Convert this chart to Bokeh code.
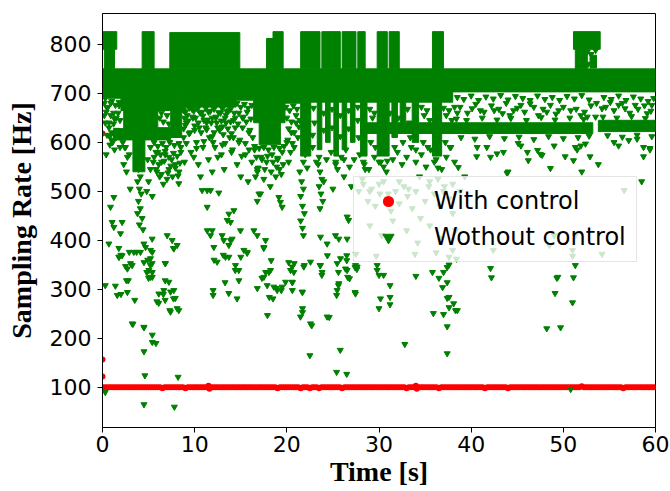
from bokeh.plotting import figure
from bokeh.models import Range1d, Legend, LegendItem, ColumnDataSource, FixedTicker
from bokeh.embed import file_html
from bokeh.resources import INLINE

# ---------------- data ----------------
x_ticks = [0, 10, 20, 30, 40, 50, 60]
y_ticks = [100, 200, 300, 400, 500, 600, 700, 800]

# "With control": ~100 Hz throughout
red_time = [0, 0.25, 0.5, 0.75, 1, 1.25, 1.5, 1.75, 2, 2.25, 2.5, 2.75, 3, 3.25, 3.5, 3.75,
            4, 4.25, 4.5, 4.75, 5, 5.25, 5.5, 5.75, 6, 6.25, 6.5, 6.75, 7, 7.25, 7.5, 7.75,
            8, 8.25, 8.5, 8.75, 9, 9.25, 9.5, 9.75, 10, 10.25, 10.5, 10.75, 11, 11.25, 11.5, 11.75,
            12, 12.25, 12.5, 12.75, 13, 13.25, 13.5, 13.75, 14, 14.25, 14.5, 14.75, 15, 15.25, 15.5, 15.75,
            16, 16.25, 16.5, 16.75, 17, 17.25, 17.5, 17.75, 18, 18.25, 18.5, 18.75, 19, 19.25, 19.5, 19.75,
            20, 20.25, 20.5, 20.75, 21, 21.25, 21.5, 21.75, 22, 22.25, 22.5, 22.75, 23, 23.25, 23.5, 23.75,
            24, 24.25, 24.5, 24.75, 25, 25.25, 25.5, 25.75, 26, 26.25, 26.5, 26.75, 27, 27.25, 27.5, 27.75,
            28, 28.25, 28.5, 28.75, 29, 29.25, 29.5, 29.75, 30, 30.25, 30.5, 30.75, 31, 31.25, 31.5, 31.75,
            32, 32.25, 32.5, 32.75, 33, 33.25, 33.5, 33.75, 34, 34.25, 34.5, 34.75, 35, 35.25, 35.5, 35.75,
            36, 36.25, 36.5, 36.75, 37, 37.25, 37.5, 37.75, 38, 38.25, 38.5, 38.75, 39, 39.25, 39.5, 39.75,
            40, 40.25, 40.5, 40.75, 41, 41.25, 41.5, 41.75, 42, 42.25, 42.5, 42.75, 43, 43.25, 43.5, 43.75,
            44, 44.25, 44.5, 44.75, 45, 45.25, 45.5, 45.75, 46, 46.25, 46.5, 46.75, 47, 47.25, 47.5, 47.75,
            48, 48.25, 48.5, 48.75, 49, 49.25, 49.5, 49.75, 50, 50.25, 50.5, 50.75, 51, 51.25, 51.5, 51.75,
            52, 52.25, 52.5, 52.75, 53, 53.25, 53.5, 53.75, 54, 54.25, 54.5, 54.75, 55, 55.25, 55.5, 55.75,
            56, 56.25, 56.5, 56.75, 57, 57.25, 57.5, 57.75, 58, 58.25, 58.5, 58.75, 59, 59.25, 59.5, 59.75,
            60]
red_rate = [100, 100, 100, 100, 100, 100, 100, 100, 100, 100, 100, 100, 100, 100, 100, 100,
            100, 100, 100, 100, 100, 100, 100, 100, 100, 100, 98, 100, 100, 100, 100, 100,
            100, 100, 100, 100, 98, 100, 100, 100, 100, 100, 100, 100, 100, 100, 103, 100,
            100, 100, 100, 100, 100, 100, 100, 100, 100, 100, 100, 100, 100, 100, 100, 100,
            100, 100, 100, 100, 100, 100, 100, 100, 100, 100, 100, 100, 98, 100, 100, 100,
            100, 100, 100, 100, 100, 100, 98, 100, 100, 100, 98, 100, 100, 100, 98, 100,
            100, 100, 100, 100, 100, 100, 100, 100, 98, 100, 100, 100, 100, 100, 100, 100,
            100, 100, 100, 100, 100, 100, 100, 100, 100, 100, 100, 100, 100, 100, 100, 100,
            100, 100, 100, 100, 98, 100, 100, 100, 103, 100, 100, 100, 100, 100, 100, 100,
            100, 100, 98, 100, 100, 100, 100, 100, 100, 100, 100, 100, 100, 100, 100, 100,
            100, 100, 100, 100, 100, 100, 98, 100, 100, 100, 100, 100, 100, 100, 100, 100,
            98, 100, 100, 100, 100, 100, 100, 100, 100, 100, 100, 100, 100, 100, 100, 100,
            100, 100, 100, 100, 100, 100, 100, 100, 100, 100, 100, 100, 100, 100, 100, 100,
            102, 100, 100, 100, 100, 100, 100, 100, 100, 100, 100, 100, 100, 100, 100, 100,
            100, 100, 98, 100, 100, 100, 100, 100, 100, 100, 100, 100, 100, 100, 100, 100,
            100]
red_extra_time = [0, 0, 0, 0.1, 11.6, 34.1]
red_extra_rate = [618, 157, 122, 97, 97, 97]

# "Wothout control": saturated regions of the cloud (t0, t1, low, high)
dense_t0 = [0, 0.0, 0.2, 4.3, 7.3, 17.8, 18.5, 21.5, 23.8, 26.0, 27.7, 29.8, 31.1, 35.8,
            51.1, 51.3, 52.9,
            0, 2.0, 2.3, 6.0, 7.4, 1.2, 3.3, 8.6, 14.5, 16.4, 17.0, 19.8, 21.5,
            21.5, 23.3, 24.2, 25.1, 26.0, 26.9, 28.0, 29.8, 31.4, 32.3, 33.6, 35.8,
            28.0, 53.8]
dense_t1 = [60, 1.55, 1.3, 5.6, 14.9, 18.5, 19.6, 23.6, 25.8, 27.5, 28.5, 30.9, 32.2, 37.0,
            54.0, 52.6, 53.6,
            2.0, 8.6, 6.0, 7.4, 8.6, 2.3, 4.6, 14.5, 16.4, 19.8, 19.3, 21.5, 38.0,
            22.6, 23.8, 24.7, 25.6, 26.5, 27.4, 28.7, 31.1, 32.0, 32.9, 34.3, 36.8,
            53.2, 60]
dense_lo = [703, 790, 750, 750, 750, 750, 750, 750, 750, 750, 750, 750, 750, 750,
            790, 750, 752,
            690, 665, 605, 605, 610, 605, 540, 672, 686, 640, 595, 680, 682,
            572, 585, 600, 572, 585, 600, 572, 572, 610, 620, 600, 572,
            618, 622]
dense_hi = [750, 826, 790, 826, 824, 812, 826, 826, 826, 826, 826, 826, 826, 826,
            826, 790, 778,
            703, 703, 665, 630, 665, 628, 605, 703, 703, 703, 640, 703, 703,
            682, 682, 682, 682, 682, 682, 682, 682, 682, 682, 682, 682,
            640, 645]

# scattered triangles, grouped by region
low_left_time = [0.3, 1.4, 1.6, 2.0, 1.8, 2.0, 2.5, 2.7, 2.6, 2.8, 2.7, 2.9, 3.7, 3.5, 3.3,
                 4.5, 4.9, 4.8, 5.4, 5.0, 5.4, 5.2, 5.4, 5.4, 5.4, 5.8, 4.5, 4.5, 5.9, 6.1,
                 6.6, 6.8, 6.8, 6.8, 7.3, 7.7, 7.9, 8.1, 7.7, 12.1, 12.0, 12.0, 13.1, 13.3, 13.7,
                 14.4, 14.6, 14.8, 15.0, 15.7, 16.8, 17.3, 17.5, 17.7, 17.9, 18.1, 18.3, 18.5, 18.9, 19.4,
                 20.2, 20.4, 20.6, 20.6, 20.8, 21.7, 21.7, 21.7, 21.9, 22.5, 22.7, 23.6, 23.8, 24.4, 24.6]
low_left_rate = [308, 307, 288, 290, 366, 370, 347, 342, 318, 318, 294, 376, 376, 278, 229,
                 355, 360, 335, 335, 323, 325, 349, 376, 207, 192, 190, 173, 222, 275, 272,
                 290, 278, 353, 318, 257, 281, 282, 261, 384, 360, 298, 288, 370, 314, 292,
                 339, 281, 318, 366, 374, 302, 323, 384, 335, 247, 284, 359, 281, 302, 298,
                 355, 339, 314, 298, 353, 261, 253, 294, 349, 165, 226, 349, 329, 369, 243]

very_low_time = [4.5, 7.8, 0.3, 8.2, 4.6, 50.8]
very_low_rate = [65, 60, 90, 121, 124, 96]

low_right_time = [26.5, 26.5, 25.6, 26.6, 26.8, 25.6, 25.4, 27.4, 27.6, 27.4,
                  25.8, 25.4, 26.5, 29.8, 30.0, 30.5, 30.0, 31.2, 31.2, 31.2,
                  32.8, 34.0, 35.8, 36.5, 37.0, 37.4, 37.6, 36.9, 37.4, 37.4,
                  37.6, 38.1, 37.6, 38.3, 38.5, 35.9, 37.0, 37.4, 37.4, 42.1,
                  42.2, 48.2, 49.7, 49.1, 49.3, 49.4, 51.0, 51.1, 51.3]
low_right_rate = [369, 359, 335, 325, 322, 308, 288, 345, 341, 294,
                  176, 131, 127, 349, 329, 329, 261, 308, 284, 269,
                  188, 327, 335, 323, 335, 345, 350, 304, 314, 282,
                  284, 271, 263, 257, 257, 251, 249, 224, 169, 343,
                  324, 220, 222, 292, 323, 325, 273, 324, 349]

mid_left_time = [0.87, 1.23, 1.05, 1.23, 1.95, 2.13, 0.69, 1.77, 1.77, 2.13, 3.04, 3.22, 3.40, 4.12,
                 4.49, 4.67, 5.39, 5.21, 5.21, 5.39, 5.03, 5.21,
                 3.7, 3.9, 4.1, 3.8, 4.0, 4.2, 3.9, 4.1, 3.8, 4.3, 4.0, 4.4,
                 7.02, 7.56, 7.74, 8.10, 6.83, 7.20, 6.11, 6.65, 7.38, 7.74, 7.38, 8.28, 3.22, 4.49]
mid_left_rate = [468, 488, 437, 427, 414, 437, 393, 384, 366, 369, 353, 349, 376, 376,
                 393, 386, 403, 380, 363, 353, 339, 325,
                 560, 545, 530, 520, 505, 495, 480, 465, 455, 445, 432, 422,
                 410, 400, 383, 390, 353, 315, 291, 298, 295, 298, 254, 257, 230, 223]

mid_centre_time = [8.28, 10.63, 10.81, 11.36, 11.72, 11.36, 12.62, 11.36, 11.90, 11.72,
                   12.08, 12.98, 13.16, 13.71, 13.89, 14.07, 13.34, 13.71, 12.44, 14.25,
                   13.71, 13.53, 13.89, 14.43, 14.79, 14.97, 15.34, 15.70,
                   16.79, 16.60, 16.97, 17.15, 16.79, 16.42, 16.79, 17.51, 17.69, 17.51,
                   18.05, 18.23, 17.87, 18.59, 18.95, 19.49, 19.86, 20.58, 19.13, 19.31,
                   19.49, 20.76, 20.58, 21.66, 21.84, 22.57, 23.65, 21.48, 22.57, 24.37,
                   23.83, 23.65,
                   21.4, 21.6, 21.8, 21.5, 21.7, 21.9, 21.5, 21.7, 21.8,
                   23.4, 23.6, 23.8, 23.5, 23.7, 23.9, 23.6,
                   24.37, 25.28, 25.64, 26.54, 25.46, 25.82, 26.54, 26.36, 25.64, 25.46,
                   27.45, 27.45, 27.63, 26.54, 26.7, 29.80, 30.16]
mid_centre_rate = [516, 530, 502, 502, 502, 468, 497, 420, 420, 410,
                   386, 410, 400, 390, 400, 403, 366, 366, 356, 461,
                   454, 441, 437, 349, 339, 420, 380, 376,
                   545, 530, 495, 495, 480, 420, 410, 386, 400, 325,
                   335, 339, 308, 305, 298, 305, 315, 315, 488, 478,
                   468, 335, 346, 295, 346, 356, 349, 244, 230, 244,
                   335, 407,
                   540, 520, 505, 490, 470, 455, 440, 425, 410,
                   555, 540, 525, 510, 495, 480, 465,
                   393, 410, 403, 403, 353, 363, 339, 342, 312, 298,
                   291, 349, 346, 448, 441, 339, 281]

fringe_left_time = [0.3, 0.5, 0.9, 1.2, 0.7, 1.5, 1.8, 0.8, 1.1, 1.9, 0.2, 1.0,
                    2.5, 2.9, 5.2, 5.6, 6.0, 6.4, 6.8, 7.2, 7.5, 7.9, 8.3, 5.8, 6.2, 6.6, 7.0,
                    2.3, 2.6, 3.0, 4.8, 5.0, 5.4,
                    8.5, 8.8, 9.1, 9.5, 9.8, 10.2, 10.5, 10.9, 11.3, 11.6, 12.0, 12.3, 12.7, 13.0,
                    13.4, 13.8, 14.1, 14.4, 14.8, 15.2, 15.5, 15.9, 16.2, 8.9, 9.6, 10.4, 11.9,
                    12.5, 13.2, 14.6, 15.0, 15.8,
                    8.8, 9.2, 9.7, 10.1, 10.6, 11.0, 11.5, 11.9, 12.4, 12.8, 13.3, 13.7, 14.2,
                    9.0, 10.0, 11.2, 12.1, 13.0, 14.0,
                    16.5, 17.2, 17.8, 18.4, 19.0, 19.5, 20.0, 20.5, 21.0,
                    16.8, 17.5, 18.2, 18.8, 19.2, 20.2, 20.8]
fringe_left_rate = [690, 670, 680, 660, 640, 650, 675, 612, 600, 590, 655, 620,
                    590, 575, 590, 570, 580, 560, 575, 545, 565, 555, 540, 545, 530, 515, 525,
                    555, 540, 505, 500, 520, 490,
                    590, 610, 640, 620, 650, 600, 630, 590, 640, 610, 600, 650, 625, 595,
                    640, 610, 585, 630, 600, 650, 575, 620, 560, 560, 580, 555, 540,
                    570, 545, 555, 530, 520,
                    665, 655, 668, 650, 660, 645, 662, 650, 640, 660, 650, 665, 645,
                    635, 625, 630, 620, 632, 618,
                    585, 570, 560, 575, 565, 580, 600, 620, 640,
                    540, 525, 510, 530, 545, 560, 590]

fringe_mid_time = [22.0, 22.8, 23.2, 24.3, 24.8, 25.3, 25.9, 26.4, 26.8, 27.3,
                   27.9, 28.4, 28.9, 29.5, 30.2, 30.8, 31.5, 32.0, 32.5, 33.0,
                   33.5, 34.0, 34.6, 35.1, 35.6, 36.2, 36.8, 37.3, 37.8, 38.2,
                   24.0, 25.0, 26.2, 27.0, 28.2, 29.0, 30.0, 31.0, 32.2, 33.2,
                   34.4, 35.4, 36.4, 37.0, 38.0, 38.6]
fringe_mid_rate = [575, 590, 560, 565, 580, 555, 570, 585, 550, 565,
                   575, 555, 545, 570, 560, 540, 565, 580, 555, 570,
                   590, 560, 575, 550, 585, 565, 545, 570, 590, 560,
                   520, 505, 530, 510, 525, 500, 515, 495, 520, 505,
                   530, 510, 525, 500, 515, 549]

cloud_a_time = [0.2, 0.6, 1.0, 1.4, 1.8, 0.4, 0.9, 1.3, 1.7, 0.3, 0.7, 1.2, 1.6, 1.9, 0.5,
                1.0, 1.5, 0.8, 1.3, 0.4,
                5.6, 6.0, 6.5, 6.9, 7.3, 7.8, 8.3, 5.8, 6.3, 6.8, 7.2, 7.7, 8.1, 8.5, 5.5,
                6.1, 6.7, 7.4, 7.9, 8.4, 5.9, 6.4, 7.1, 7.6, 8.2, 4.9, 5.2, 2.4, 2.7, 2.2,
                6.2, 6.6, 7.0, 7.2, 6.4]
cloud_a_rate = [680, 672, 684, 676, 682, 662, 655, 648, 660, 640, 630, 638, 625, 645, 615,
                605, 610, 595, 585, 575,
                600, 592, 598, 590, 600, 594, 598, 580, 575, 582, 570, 578, 572, 580, 560,
                555, 562, 552, 548, 558, 540, 535, 538, 530, 532, 565, 545, 590, 570, 600,
                650, 642, 655, 638, 660]

cloud_b_time = [8.7, 9.0, 9.4, 9.9, 10.3, 10.8, 11.2, 11.7, 12.1, 12.6, 13.0, 13.5, 13.9, 14.3,
                8.9, 9.3, 9.8, 10.4, 10.9, 11.4, 11.8, 12.3, 12.9, 13.4, 13.9, 14.4,
                8.8, 9.4, 10.0, 10.7, 11.3, 11.9, 12.5, 13.1, 13.6, 14.2,
                9.1, 10.2, 11.0, 12.2, 13.3, 14.0, 9.9, 11.5, 12.9,
                14.6, 15.0, 15.4, 15.8, 16.2, 14.8, 15.3, 15.7, 16.1, 14.7, 15.2, 15.6, 16.0,
                16.3, 14.9, 15.5, 15.9, 15.1]
cloud_b_rate = [668, 662, 670, 664, 668, 662, 670, 664, 668, 661, 669, 663, 668, 660,
                650, 644, 652, 640, 654, 646, 640, 652, 644, 656, 642, 650,
                628, 618, 634, 620, 626, 612, 630, 616, 628, 610,
                598, 588, 602, 590, 598, 580, 570, 565, 575,
                680, 672, 678, 670, 676, 660, 652, 662, 648, 638, 630, 642, 625,
                610, 605, 598, 585, 572]

cloud_c_time = [16.5, 17.0, 17.5, 18.0, 18.6, 19.2, 19.7, 16.7, 17.3, 17.9, 18.5, 19.0, 19.6,
                16.9, 17.6, 18.3, 18.9, 19.4,
                19.9, 20.3, 20.7, 21.1, 20.0, 20.5, 21.0, 21.4, 20.2, 20.8, 21.3, 20.1, 20.6,
                21.2, 20.4]
cloud_c_rate = [592, 588, 590, 585, 590, 588, 592, 570, 565, 572, 560, 568, 555,
                548, 545, 540, 550, 535,
                672, 665, 675, 668, 650, 642, 655, 645, 628, 620, 632, 605, 598,
                610, 580]

cloud_d_time = [22.9, 23.0, 22.8, 24.0, 24.0, 24.9, 24.9, 25.8, 25.8, 26.7,
                26.7, 27.7, 27.7, 27.8, 29.0, 29.3, 29.5, 29.1, 29.6, 31.2,
                32.1, 33.1, 33.3, 33.4, 34.6, 34.9, 35.2, 35.5, 34.8, 35.3,
                37.0, 37.3, 37.6, 37.9, 37.2, 37.7, 38.2, 38.5,
                21.8, 22.2, 23.5, 25.3, 25.5, 26.2, 28.3, 28.5, 30.0, 30.5, 30.9, 36.0,
                36.4, 31.7, 32.6, 34.0]
cloud_d_rate = [670, 640, 615, 660, 625, 668, 630, 655, 612, 665,
                628, 672, 645, 610, 668, 650, 660, 600, 590, 660,
                650, 668, 640, 610, 672, 655, 665, 645, 600, 590,
                670, 655, 665, 645, 600, 590, 672, 660,
                560, 548, 570, 560, 545, 565, 560, 545, 560, 550, 562, 560,
                548, 590, 600, 585]

right_time = [43.9, 45.1, 46.1, 46.2, 47.2, 47.7, 48.6, 50.2, 51.1, 51.3,
              52.9, 53.8, 58.7, 59.4, 58.7, 41.7, 42.8, 40.6, 40.65, 42.1,
              43.5, 45.4, 47.5, 49.0, 51.5, 51.9, 52.4, 55.5, 56.0, 57.1, 58.0, 59.4,
              40.1, 41.0, 42.5, 43.4, 44.6, 45.4, 46.4, 47.3, 48.2, 49.5, 50.8,
              51.9, 52.6, 53.5, 54.2, 54.6, 55.1, 56.0, 56.7, 57.8, 59.1, 59.6,
              38.5, 39.2, 40.0, 40.8, 41.6, 42.4, 43.2, 44.0, 44.8, 45.6, 46.4, 47.2,
              48.0, 48.8, 49.6, 50.4, 51.2, 52.0, 52.8, 53.6, 54.4, 55.2, 56.0, 56.8,
              57.6, 58.4, 59.2, 59.8,
              38.4, 39.5, 41.2, 42.8, 44.3, 46.0, 47.6, 49.1, 50.7, 52.2, 54.3, 55.8, 57.4, 58.9,
              38.9, 40.4, 42.0, 43.6, 45.2, 46.8, 48.4, 50.0, 51.6, 52.8, 54.8, 56.4, 58.0, 59.6,
              52.6, 53.0, 53.5, 52.7,
              38.8, 39.6, 40.5, 41.4, 42.2, 43.0, 43.8, 44.2, 45.0, 45.8, 46.8, 47.8,
              48.6, 49.2, 50.0, 51.4, 52.3, 53.0, 55.5, 56.4, 57.2, 58.1, 58.8, 59.5]
right_rate = [537, 598, 580, 563, 584, 574, 547, 571, 563, 590,
              571, 555, 590, 588, 571, 590, 577, 571, 590, 570,
              580, 593, 576, 593, 585, 593, 597, 600, 593, 604, 607, 585,
              669, 665, 665, 659, 665, 676, 679, 655, 662, 665, 665,
              655, 652, 652, 669, 672, 682, 676, 669, 676, 659, 676,
              692, 688, 695, 686, 693, 689, 696, 687, 694, 690, 686, 695,
              688, 692, 686, 694, 689, 696, 687, 680, 692, 688, 695, 686,
              693, 689, 684, 690,
              648, 645, 650, 646, 649, 645, 651, 646, 650, 647, 652, 650, 653, 649,
              610, 607, 612, 608, 611, 606, 612, 608, 610, 613, 614, 611, 615, 612,
              785, 780, 788, 760,
              672, 660, 678, 662, 675, 668, 680, 655, 670, 662, 672, 668,
              676, 658, 672, 668, 662, 675, 665, 680, 660, 668, 675, 664]

legend_zone_time = [27.8, 28.3, 28.8, 29.2, 29.6, 30.1, 30.5, 30.9, 31.3, 31.8,
                    32.2, 32.7, 33.1, 33.6, 34.0, 34.5, 35.0, 35.5, 36.0, 36.6,
                    37.1, 37.6, 38.0, 38.8, 39.3, 29.0, 30.3, 31.5, 33.0, 34.2,
                    35.5, 36.8, 38.3, 42.4, 44.0, 48.5, 49.0, 51.0, 51.3, 56.6,
                    58.5, 52.0, 27.5, 29.7, 33.9, 36.2, 37.6, 51.0, 54.2, 38.0, 38.4]
legend_zone_rate = [500, 515, 480, 505, 470, 495, 520, 485, 460, 500,
                    475, 510, 490, 465, 500, 445, 480, 520, 495, 470,
                    510, 485, 455, 500, 530, 430, 410, 440, 420, 395,
                    430, 405, 420, 380, 540, 390, 410, 380, 410, 502,
                    520, 540, 372, 368, 372, 375, 366, 368, 372, 380, 362]

# ---------------- assemble sources ----------------
def pairs(ts, rs):
    n = min(len(ts), len(rs))
    return list(ts[:n]), list(rs[:n])

g_t, g_r = [], []
for ts, rs in [(low_left_time, low_left_rate), (very_low_time, very_low_rate),
               (low_right_time, low_right_rate), (mid_left_time, mid_left_rate),
               (mid_centre_time, mid_centre_rate), (fringe_left_time, fringe_left_rate),
               (fringe_mid_time, fringe_mid_rate), (cloud_a_time, cloud_a_rate),
               (cloud_b_time, cloud_b_rate), (cloud_c_time, cloud_c_rate),
               (cloud_d_time, cloud_d_rate), (right_time, right_rate),
               (legend_zone_time, legend_zone_rate)]:
    a, b = pairs(ts, rs)
    g_t += a
    g_r += b

r_t, r_r = pairs(red_time + red_extra_time, red_rate + red_extra_rate)

red_src = ColumnDataSource(dict(t=r_t, rate=r_r))
green_src = ColumnDataSource(dict(t=g_t, rate=g_r))
dense_src = ColumnDataSource(dict(t0=dense_t0, t1=dense_t1, lo=dense_lo, hi=dense_hi))

GREEN = "#008000"
RED = "#ff0000"

p = figure(width=670, height=491, x_range=Range1d(0, 60), y_range=Range1d(18, 863),
           output_backend="svg", toolbar_location=None,
           min_border_left=102, min_border_right=15, min_border_top=13, min_border_bottom=64)
p.grid.visible = False
p.outline_line_color = "black"
p.outline_line_width = 1
p.background_fill_color = "white"
p.border_fill_color = "white"

for ax in (p.xaxis[0], p.yaxis[0]):
    ax.major_tick_out = 5
    ax.major_tick_in = 0
    ax.minor_tick_out = 0
    ax.minor_tick_in = 0
    ax.axis_line_color = "black"
    ax.major_tick_line_color = "black"
    ax.major_label_text_font = "DejaVu Sans"
    ax.major_label_text_font_size = "22px"
    ax.major_label_text_color = "black"
    ax.axis_label_text_font = "Liberation Serif"
    ax.axis_label_text_font_style = "bold"
    ax.axis_label_text_font_size = "28px"
    ax.axis_label_text_color = "black"

p.xaxis.ticker = FixedTicker(ticks=x_ticks)
p.yaxis.ticker = FixedTicker(ticks=y_ticks)
p.xaxis.axis_label = "Time [s]"
p.yaxis.axis_label = "Sampling Rate [Hz]"
p.xaxis.major_label_standoff = 3
p.yaxis.major_label_standoff = 6
p.xaxis.axis_label_standoff = 1
p.yaxis.axis_label_standoff = 10

red_r = p.scatter("t", "rate", source=red_src, marker="circle", size=6,
                  fill_color=RED, line_color=RED, line_width=0)
p.quad(left="t0", right="t1", bottom="lo", top="hi", source=dense_src,
       fill_color=GREEN, line_color=GREEN, line_width=1)
green_r = p.scatter("t", "rate", source=green_src, marker="inverted_triangle", size=6,
                    fill_color=GREEN, line_color=GREEN, line_width=1)

legend = Legend(items=[LegendItem(label="With control", renderers=[red_r]),
                       LegendItem(label="Wothout control", renderers=[green_r])],
                location=(251, 165))
legend.label_text_font = "DejaVu Sans"
legend.label_text_font_size = "24px"
legend.label_text_color = "black"
legend.background_fill_color = "white"
legend.background_fill_alpha = 0.8
legend.border_line_color = "#cccccc"
legend.border_line_width = 1
legend.padding = 10
legend.spacing = 8
legend.margin = 0
legend.glyph_width = 48
legend.glyph_height = 28
legend.label_height = 28
legend.label_standoff = 22
p.add_layout(legend)

open("out.html", "w").write(file_html(p, INLINE))
